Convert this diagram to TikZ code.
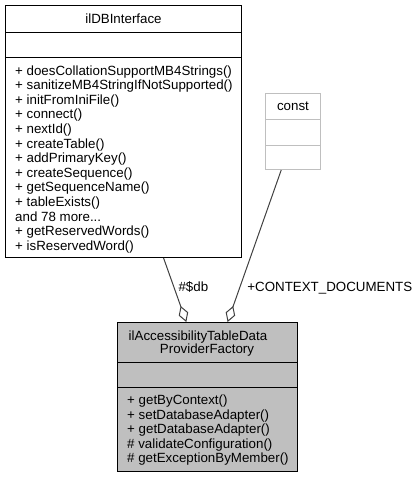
\documentclass[tikz,border=0pt]{standalone}
\usepackage{fontspec}
\setmainfont{Liberation Sans}
\usetikzlibrary{arrows.meta,calc}

\definecolor{classgray}{HTML}{BFBFBF}
\definecolor{edgegray}{HTML}{404040}
\newcommand\moredots{...}

\tikzset{
    part/.style={draw=black, line width=1pt, fill=white, inner sep=0pt, anchor=north west},
    faint/.style={part, draw=classgray},
    shaded/.style={part, fill=classgray},
    member/.style={anchor=base west, inner sep=0pt},
    headline/.style={anchor=base, inner sep=0pt},
    aggr/.style={draw=edgegray, line width=1pt, {Diamond[open, length=17pt, width=10pt]}-},
    tag/.style={anchor=base west, inner sep=0pt}
}

\begin{document}
\begin{tikzpicture}[x=1pt, y=-1pt, font=\fontsize{13.33}{15}\selectfont]
    \useasboundingbox (0,0) rectangle (419,477);

    % ilDBInterface
    \node[part, minimum width=236pt, minimum height=27pt] (dbititle) at (5,5) {};
    \node at (dbititle.center) {ilDBInterface};
    \node[part, minimum width=236pt, minimum height=25pt] (dbiattr) at (5,32) {};
    \node[part, minimum width=236pt, minimum height=200pt] (dbimeth) at (5,57) {};
    \foreach \txt [count=\i from 0] in {+ doesCollationSupportMB4Strings(),
        + sanitizeMB4StringIfNotSupported(), + initFromIniFile(), + connect(),
        + nextId(), + createTable(), + addPrimaryKey(), + createSequence(),
        + getSequenceName(), + tableExists(), and 78 more\moredots, + getReservedWords(),
        + isReservedWord()}
        \node[member] (dbim\i) at (15,{75+14.6*\i}) {\txt};

    % const
    \node[faint, minimum width=55pt, minimum height=26pt] (consttitle) at (265,93) {};
    \node at (consttitle.center) {const};
    \node[faint, minimum width=55pt, minimum height=26pt] (constattr) at (265,119) {};
    \node[faint, minimum width=55pt, minimum height=24pt] (constmeth) at (265,145) {};

    % ilAccessibilityTableDataProviderFactory
    \node[shaded, minimum width=180pt, minimum height=40pt] (factitle) at (117,322) {};
    \node[headline] (facname) at (198,340) {ilAccessibilityTableData};
    \node[headline] (facname2) at (207,353) {ProviderFactory};
    \node[shaded, minimum width=180pt, minimum height=25pt] (facattr) at (117,362) {};
    \node[shaded, minimum width=180pt, minimum height=84pt] (facmeth) at (117,387) {};
    \foreach \txt [count=\i from 0] in {+ getByContext(), + setDatabaseAdapter(),
        + getDatabaseAdapter(), \# validateConfiguration(), \# getExceptionByMember()}
        \node[member] (facm\i) at (127,{404.5+14.5*\i}) {\txt};

    % aggregations
    \draw[aggr] ($(factitle.north west)!0.383!(factitle.north east)$) -- ($(dbimeth.south west)!0.669!(dbimeth.south east)$)
        node[tag, pos=0.54, xshift=4pt, yshift=-4.5pt] {\#\$db};
    \draw[aggr] ($(factitle.north west)!0.611!(factitle.north east)$) -- ($(constmeth.south west)!0.29!(constmeth.south east)$)
        node[tag, pos=0.229, xshift=7pt, yshift=-4.5pt] {+CONTEXT\_DOCUMENTS};
\end{tikzpicture}
\end{document}
